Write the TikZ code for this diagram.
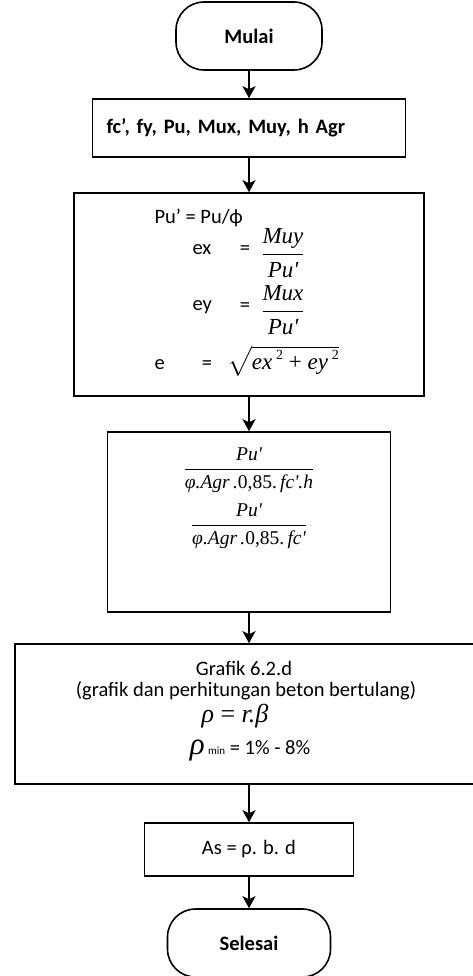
\documentclass[tikz,border=0pt]{standalone}
\usepackage{amsmath}
\usepackage{fontspec}
\setmainfont{Carlito}
\newfontfamily\tnr{Liberation Serif}
\usetikzlibrary{arrows.meta}
\newcommand{\pecahan}[2]{\ensuremath{\dfrac{\mbox{\tnr\itshape #1}}{\mbox{\tnr\itshape #2}}}}
\newcommand{\aks}{\textquotesingle}
\newcommand{\kuadrat}{\,\raisebox{0.45em}{\fontsize{14}{14}\selectfont\upshape 2}}

\begin{document}
\begin{tikzpicture}[x=1pt,y=1pt,
  every node/.style={font=\fontsize{20.5}{24}\selectfont},
  kotak/.style={draw,line width=1.6pt,inner sep=0pt},
  terminal/.style={kotak,rounded corners=28pt,minimum width=146pt,minimum height=68pt,font=\fontsize{20.5}{24}\selectfont\bfseries},
  rumus/.style={font=\fontsize{23}{26}\selectfont},
  panah/.style={line width=1.8pt,-{Stealth[length=12pt,width=13pt,inset=3pt]}}]
  \useasboundingbox (0,0) rectangle (473,-976);
  % kotak utama
  \node[terminal] (mulai) at (249,-36) {Mulai};
  \node[kotak,minimum height=58pt,text width=285pt,inner xsep=14pt,align=left,
    font=\fontsize{20.5}{24}\selectfont\bfseries] (input) at (249,-128)
    {fc', fy, Pu, Mux, Muy, h Agr};
  \node[kotak,minimum width=350pt,minimum height=203pt] (hitung) at (249,-294.5) {};
  \node[kotak,minimum width=283pt,minimum height=180pt] (rasio) at (249,-522) {};
  \node[kotak,minimum width=468pt,minimum height=140pt] (grafik) at (249,-714) {};
  \node[kotak,minimum width=209pt,minimum height=53pt] (luas) at (249,-849.5) {As = ρ. b. d};
  \node[terminal,minimum width=163pt] (selesai) at (249,-943) {Selesai};
  % isi kotak hitung
  \node[anchor=west] (pu) at (151,-218) {Pu' = Pu/ϕ};
  \node[anchor=west] (ex) at (189,-250) {ex};
  \node (exsama) at (245,-250) {=};
  \node[rumus] (exrumus) at (283,-253) {\pecahan{Muy}{Pu\aks}};
  \node[anchor=west] (ey) at (189,-307) {ey};
  \node (eysama) at (245,-307) {=};
  \node[rumus] (eyrumus) at (283,-310) {\pecahan{Mux}{Pu\aks}};
  \node[anchor=west] (e) at (151,-365) {e};
  \node (esama) at (207,-365) {=};
  \node[rumus] (erumus) at (283,-361)
    {$\sqrt{\mbox{\tnr{\itshape ex}\kuadrat\ + {\itshape ey}\kuadrat}}$};
  % isi kotak rasio
  \node[font=\fontsize{19.5}{22}\selectfont] (rasio1) at (249,-470)
    {\pecahan{Pu\aks}{φ.Agr\,.\upshape 0,85.\,\itshape fc\aks.h}};
  \node[font=\fontsize{19.5}{22}\selectfont] (rasio2) at (249,-526)
    {\pecahan{Pu\aks}{φ.Agr\,.\upshape 0,85.\,\itshape fc\aks}};
  % isi kotak grafik
  \node (judul) at (244,-668) {Grafik 6.2.d};
  \node (sumber) at (246,-691) {(grafik dan perhitungan beton bertulang)};
  \node[font=\fontsize{26}{28}\selectfont\tnr] (rho) at (235,-716)
    {\itshape ρ\hspace{0.25em}\upshape=\hspace{0.25em}\itshape r.β};
  \node (rhomin) at (250,-751)
    {{\tnr\itshape\fontsize{31}{31}\selectfont ρ}\,{\fontsize{11}{11}\selectfont min} = 1\% - 8\%};
  % panah
  \draw[panah] (mulai) -- (input);
  \draw[panah] (input) -- (hitung);
  \draw[panah] (hitung) -- (rasio);
  \draw[panah] (rasio) -- (grafik);
  \draw[panah] (grafik) -- (luas);
  \draw[panah] (luas) -- (selesai);
\end{tikzpicture}
\end{document}
